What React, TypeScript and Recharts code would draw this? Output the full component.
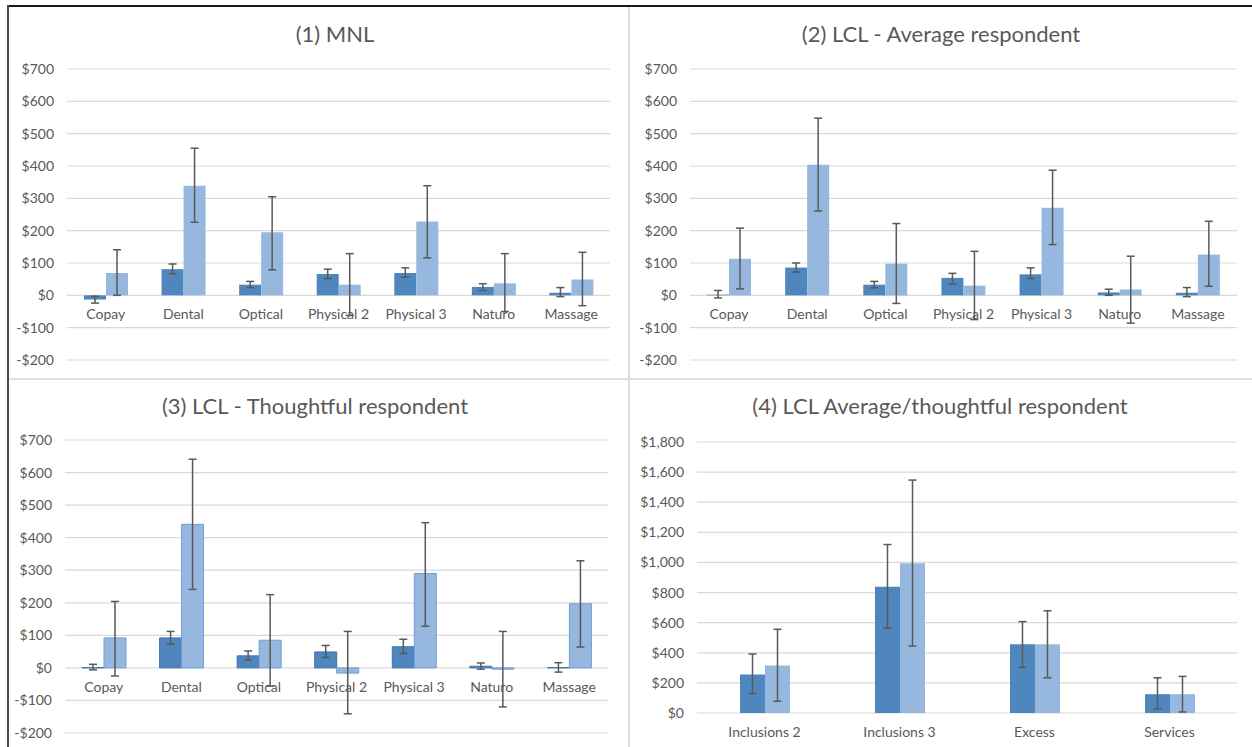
import { BarChart, Bar, XAxis, YAxis, CartesianGrid, ErrorBar } from 'recharts';

const FONT = 'Lato, "Liberation Sans", sans-serif';
const TEXT = '#595959';
const DARK = '#4f86bd';
const LIGHT = '#97b8de';
const ERR = '#595959';

// categories
const services7 = ['Copay', 'Dental', 'Optical', 'Physical 2', 'Physical 3', 'Naturo', 'Massage'];
const services4 = ['Inclusions 2', 'Inclusions 3', 'Excess', 'Services'];

// tick values
const ticksSmall = [-200, -100, 0, 100, 200, 300, 400, 500, 600, 700];
const ticksLarge = [0, 200, 400, 600, 800, 1000, 1200, 1400, 1600, 1800];

// (1) MNL
const p1Dark = [-13, 81, 33, 66, 69, 26, 8];
const p1DarkLo = [-24, 67, 24, 52, 56, 15, -4];
const p1DarkHi = [-3, 97, 43, 81, 85, 36, 24];
const p1Light = [69, 339, 195, 33, 228, 37, 49];
const p1LightLo = [0, 226, 79, -62, 116, -50, -32];
const p1LightHi = [141, 455, 305, 129, 339, 129, 133];

// (2) LCL - Average respondent
const p2Dark = [2, 86, 33, 54, 65, 9, 8];
const p2DarkLo = [-8, 72, 23, 35, 52, 0, -4];
const p2DarkHi = [15, 100, 43, 68, 85, 19, 24];
const p2Light = [113, 404, 98, 30, 271, 18, 126];
const p2LightLo = [20, 261, -25, -75, 157, -86, 28];
const p2LightHi = [208, 548, 222, 136, 387, 121, 229];

// (3) LCL - Thoughtful respondent
const p3Dark = [1, 92, 37, 49, 65, 5, 1];
const p3DarkLo = [-6, 73, 25, 32, 44, -4, -13];
const p3DarkHi = [11, 112, 52, 69, 88, 15, 16];
const p3Light = [92, 441, 85, -16, 290, -4, 197];
const p3LightLo = [-25, 241, -56, -141, 128, -120, 64];
const p3LightHi = [204, 641, 225, 112, 446, 112, 329];

// (4) LCL Average/thoughtful respondent
const p4Dark = [256, 839, 456, 125];
const p4DarkLo = [129, 563, 303, 27];
const p4DarkHi = [392, 1119, 607, 234];
const p4Light = [316, 995, 456, 125];
const p4LightLo = [78, 445, 234, 7];
const p4LightHi = [556, 1547, 679, 243];

function buildRows(cats: string[], d: number[], dLo: number[], dHi: number[], l: number[], lLo: number[], lHi: number[]) {
  return cats.map((name, i) => ({
    name,
    dark: d[i],
    darkErr: [d[i] - dLo[i], dHi[i] - d[i]],
    light: l[i],
    lightErr: [l[i] - lLo[i], lHi[i] - l[i]],
  }));
}

const money = (v: number) => (v < 0 ? '-$' : '$') + Math.abs(v).toLocaleString('en-US');

interface PanelProps {
  title: string;
  titleX: number;
  left: number;
  top: number;
  width: number;
  height: number;
  margin: { top: number; right: number; bottom: number; left: number };
  yWidth: number;
  data: ReturnType<typeof buildRows>;
  ticks: number[];
  barSize: number;
  outlined?: boolean;
}

function Panel({ title, titleX, left, top, width, height, margin, yWidth, data, ticks, barSize, outlined }: PanelProps) {
  const min = ticks[0];
  const max = ticks[ticks.length - 1];
  const plotH = height - margin.top - margin.bottom;
  const zeroY = margin.top + (plotH * max) / (max - min);

  const catTick = (props: any) => (
    <text x={props.x} y={zeroY + 24} textAnchor="middle" fill={TEXT} fontSize={14} fontFamily={FONT}>
      {props.payload.value}
    </text>
  );

  return (
    <div style={{ position: 'absolute', left, top, width, height }}>
      <div
        style={{
          position: 'absolute',
          left: titleX - 300,
          width: 600,
          top: 14,
          textAlign: 'center',
          fontFamily: FONT,
          fontSize: 22,
          color: TEXT,
          whiteSpace: 'nowrap',
        }}
      >
        {title}
      </div>
      <BarChart
        width={width}
        height={height}
        data={data}
        margin={{ ...margin, bottom: margin.bottom - 10 }}
        barGap={0}
        barSize={barSize}
      >
        <CartesianGrid vertical={false} stroke="#d9d9d9" strokeWidth={1.2} />
        <XAxis dataKey="name" axisLine={false} tickLine={false} height={10} tick={catTick} interval={0} />
        <YAxis
          domain={[min, max]}
          ticks={ticks}
          width={yWidth}
          axisLine={false}
          tickLine={false}
          tickMargin={7}
          tickFormatter={money}
          tick={{ fill: TEXT, fontSize: 14, fontFamily: FONT }}
        />
        <Bar dataKey="dark" fill={DARK} stroke={outlined ? '#3f75ad' : undefined} isAnimationActive={false}>
          <ErrorBar dataKey="darkErr" width={4} stroke={ERR} strokeWidth={1.5} direction="y" />
        </Bar>
        <Bar dataKey="light" fill={LIGHT} stroke={outlined ? '#6f9fd6' : undefined} isAnimationActive={false}>
          <ErrorBar dataKey="lightErr" width={4} stroke={ERR} strokeWidth={1.5} direction="y" />
        </Bar>
      </BarChart>
    </div>
  );
}

export default function App() {
  return (
    <div style={{ position: 'absolute', left: 0, top: 0, width: 1252, height: 747, background: '#fff', overflow: 'hidden' }}>
      <Panel
        title="(1) MNL"
        titleX={327}
        left={8}
        top={6}
        width={620}
        height={372}
        margin={{ top: 63, right: 18, bottom: 18, left: 0 }}
        yWidth={59}
        data={buildRows(services7, p1Dark, p1DarkLo, p1DarkHi, p1Light, p1LightLo, p1LightHi)}
        ticks={ticksSmall}
        barSize={22}
      />
      <Panel
        title="(2) LCL - Average respondent"
        titleX={313}
        left={628}
        top={6}
        width={624}
        height={372}
        margin={{ top: 63, right: 15, bottom: 18, left: 0 }}
        yWidth={62}
        data={buildRows(services7, p2Dark, p2DarkLo, p2DarkHi, p2Light, p2LightLo, p2LightHi)}
        ticks={ticksSmall}
        barSize={22}
      />
      <Panel
        title="(3) LCL - Thoughtful respondent"
        titleX={307}
        left={8}
        top={378}
        width={620}
        height={369}
        margin={{ top: 62, right: 20, bottom: 14, left: 0 }}
        yWidth={57}
        data={buildRows(services7, p3Dark, p3DarkLo, p3DarkHi, p3Light, p3LightLo, p3LightHi)}
        ticks={ticksSmall}
        barSize={22}
        outlined
      />
      <Panel
        title="(4) LCL Average/thoughtful respondent"
        titleX={312}
        left={628}
        top={378}
        width={624}
        height={369}
        margin={{ top: 64, right: 15, bottom: 34, left: 0 }}
        yWidth={69}
        data={buildRows(services4, p4Dark, p4DarkLo, p4DarkHi, p4Light, p4LightLo, p4LightHi)}
        ticks={ticksLarge}
        barSize={25}
      />
      {/* frame lines */}
      <div style={{ position: 'absolute', left: 8, top: 5, width: 1244, height: 1.5, background: '#1a1a1a' }} />
      <div style={{ position: 'absolute', left: 7, top: 5, width: 2, height: 742, background: '#4d4d4d' }} />
      <div style={{ position: 'absolute', left: 628, top: 7, width: 1.5, height: 740, background: '#dedede' }} />
      <div style={{ position: 'absolute', left: 9, top: 378, width: 1243, height: 1.5, background: '#dedede' }} />
    </div>
  );
}
